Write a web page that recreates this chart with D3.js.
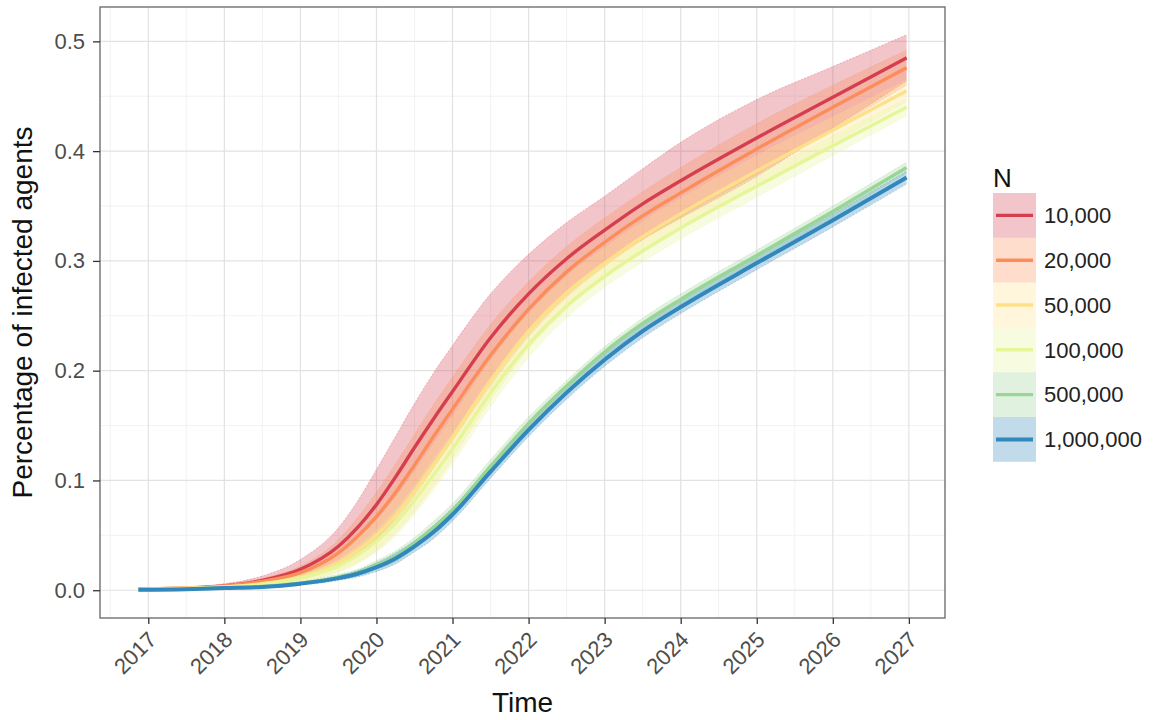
<!DOCTYPE html>
<html>
<head>
<meta charset="utf-8">
<script src="https://cdn.jsdelivr.net/npm/d3@7"></script>
<style>
  html, body { margin: 0; padding: 0; background: #fff; }
  svg { display: block; font-family: "Liberation Sans", Arial, sans-serif; }
</style>
</head>
<body>
<svg id="chart" width="1161" height="720"></svg>
<script>
// ---------- data ----------
const times = [2016.87, 2017.5, 2018, 2018.5, 2019, 2019.5, 2019.75, 2020, 2020.25, 2020.5, 2020.75,
               2021, 2021.5, 2022, 2022.5, 2023, 2023.5, 2024, 2025, 2026, 2026.97];

const seriesNames = ["10,000", "20,000", "50,000", "100,000", "500,000", "1,000,000"];
const seriesColors = ["#D53E4F", "#FC8D59", "#FEE08B", "#E6F598", "#99D594", "#3288BD"];

const mean10k  = [0.001, 0.002, 0.004, 0.009, 0.019, 0.040, 0.057, 0.078, 0.103, 0.130, 0.156, 0.181, 0.230, 0.270, 0.302, 0.328, 0.352, 0.373, 0.412, 0.449, 0.485];
const hi10k    = [0.0015, 0.003, 0.006, 0.013, 0.028, 0.057, 0.081, 0.110, 0.140, 0.170, 0.198, 0.223, 0.270, 0.306, 0.335, 0.359, 0.384, 0.408, 0.447, 0.477, 0.506];
const lo10k    = [0.0005, 0.001, 0.002, 0.005, 0.010, 0.023, 0.033, 0.046, 0.066, 0.090, 0.114, 0.139, 0.190, 0.234, 0.269, 0.297, 0.320, 0.339, 0.377, 0.421, 0.464];

const mean20k  = [0.001, 0.002, 0.004, 0.008, 0.016, 0.034, 0.049, 0.067, 0.089, 0.114, 0.140, 0.165, 0.214, 0.256, 0.290, 0.317, 0.341, 0.362, 0.402, 0.440, 0.476];
const hi20k    = [0.0014, 0.0027, 0.0055, 0.011, 0.022, 0.046, 0.066, 0.089, 0.115, 0.142, 0.169, 0.194, 0.242, 0.281, 0.313, 0.339, 0.363, 0.385, 0.425, 0.460, 0.492];
const lo20k    = [0.0006, 0.0013, 0.0025, 0.005, 0.010, 0.022, 0.032, 0.045, 0.063, 0.086, 0.111, 0.136, 0.186, 0.231, 0.267, 0.295, 0.319, 0.339, 0.379, 0.420, 0.460];

const mean50k  = [0.001, 0.002, 0.003, 0.006, 0.012, 0.025, 0.036, 0.050, 0.068, 0.090, 0.114, 0.139, 0.191, 0.236, 0.271, 0.298, 0.322, 0.343, 0.382, 0.419, 0.455];
const hi50k    = [0.0013, 0.0025, 0.004, 0.008, 0.016, 0.033, 0.047, 0.064, 0.084, 0.108, 0.133, 0.158, 0.209, 0.252, 0.286, 0.312, 0.336, 0.357, 0.396, 0.431, 0.465];
const lo50k    = [0.0007, 0.0015, 0.002, 0.004, 0.008, 0.017, 0.025, 0.036, 0.052, 0.072, 0.095, 0.120, 0.173, 0.220, 0.256, 0.284, 0.308, 0.329, 0.368, 0.407, 0.445];

const mean100k = [0.0008, 0.0015, 0.003, 0.0055, 0.011, 0.022, 0.032, 0.045, 0.061, 0.082, 0.105, 0.129, 0.180, 0.224, 0.259, 0.286, 0.309, 0.330, 0.368, 0.405, 0.440];
const hi100k   = [0.001, 0.0019, 0.0038, 0.007, 0.014, 0.028, 0.040, 0.055, 0.073, 0.095, 0.119, 0.143, 0.193, 0.236, 0.270, 0.296, 0.319, 0.340, 0.378, 0.414, 0.448];
const lo100k   = [0.0006, 0.0011, 0.0022, 0.004, 0.008, 0.016, 0.024, 0.035, 0.049, 0.069, 0.091, 0.115, 0.167, 0.212, 0.248, 0.276, 0.299, 0.320, 0.358, 0.396, 0.432];

const mean500k = [0.0005, 0.001, 0.002, 0.0035, 0.0065, 0.012, 0.016, 0.023, 0.031, 0.043, 0.057, 0.073, 0.113, 0.152, 0.186, 0.217, 0.243, 0.265, 0.305, 0.345, 0.385];
const hi500k   = [0.0007, 0.0013, 0.0025, 0.0045, 0.008, 0.0145, 0.019, 0.027, 0.036, 0.048, 0.063, 0.079, 0.119, 0.158, 0.191, 0.222, 0.248, 0.270, 0.310, 0.350, 0.390];
const lo500k   = [0.0003, 0.0007, 0.0015, 0.0025, 0.005, 0.0095, 0.013, 0.019, 0.026, 0.038, 0.051, 0.067, 0.107, 0.146, 0.181, 0.212, 0.238, 0.260, 0.300, 0.340, 0.380];

const mean1m   = [0.0005, 0.001, 0.002, 0.003, 0.006, 0.011, 0.015, 0.021, 0.029, 0.040, 0.053, 0.069, 0.108, 0.146, 0.180, 0.210, 0.236, 0.258, 0.298, 0.337, 0.376];
const hi1m     = [0.0007, 0.0013, 0.0025, 0.004, 0.0075, 0.013, 0.018, 0.025, 0.034, 0.045, 0.059, 0.075, 0.114, 0.152, 0.186, 0.216, 0.242, 0.264, 0.304, 0.343, 0.382];
const lo1m     = [0.0003, 0.0007, 0.0015, 0.002, 0.0045, 0.009, 0.012, 0.017, 0.024, 0.035, 0.047, 0.063, 0.102, 0.140, 0.174, 0.204, 0.230, 0.252, 0.292, 0.331, 0.370];

const yearTicks = [2017, 2018, 2019, 2020, 2021, 2022, 2023, 2024, 2025, 2026, 2027];
const yTicks = [0.0, 0.1, 0.2, 0.3, 0.4, 0.5];

const means = [mean10k, mean20k, mean50k, mean100k, mean500k, mean1m];
const his = [hi10k, hi20k, hi50k, hi100k, hi500k, hi1m];
const los = [lo10k, lo20k, lo50k, lo100k, lo500k, lo1m];

const series = seriesNames.map((name, i) => ({
  name, color: seriesColors[i],
  pts: times.map((t, j) => ({ t, m: means[i][j], hi: his[i][j], lo: los[i][j] }))
}));

// ---------- layout ----------
const svg = d3.select("#chart");
const P = { left: 100, right: 945, top: 7, bottom: 618 };

const tExt = d3.extent(times);
const tPad = (tExt[1] - tExt[0]) * 0.05;
const yMax = d3.max(his.flat()), yMin = 0;
const yPad = (yMax - yMin) * 0.05;

const x = d3.scaleLinear().domain([tExt[0] - tPad, tExt[1] + tPad]).range([P.left, P.right]);
const y = d3.scaleLinear().domain([yMin - yPad, yMax + yPad]).range([P.bottom, P.top]);

// grid
const g = svg.append("g");
const minorX = d3.range(2016.5, 2028, 1).filter(v => x(v) > P.left && x(v) < P.right);
const minorY = d3.range(-0.05, 0.6, 0.1).filter(v => y(v) > P.top && y(v) < P.bottom);
g.selectAll(".mx").data(minorX).join("line")
  .attr("x1", d => x(d)).attr("x2", d => x(d)).attr("y1", P.top).attr("y2", P.bottom)
  .attr("stroke", "#ededed").attr("stroke-width", 0.7);
g.selectAll(".my").data(minorY).join("line")
  .attr("y1", d => y(d)).attr("y2", d => y(d)).attr("x1", P.left).attr("x2", P.right)
  .attr("stroke", "#ededed").attr("stroke-width", 0.7);
g.selectAll(".gx").data(yearTicks).join("line")
  .attr("x1", d => x(d)).attr("x2", d => x(d)).attr("y1", P.top).attr("y2", P.bottom)
  .attr("stroke", "#e2e2e2").attr("stroke-width", 1.2);
g.selectAll(".gy").data(yTicks).join("line")
  .attr("y1", d => y(d)).attr("y2", d => y(d)).attr("x1", P.left).attr("x2", P.right)
  .attr("stroke", "#e2e2e2").attr("stroke-width", 1.2);

// ribbons
const area = d3.area().x(d => x(d.t)).y0(d => y(d.lo)).y1(d => y(d.hi)).curve(d3.curveMonotoneX);
const line = d3.line().x(d => x(d.t)).y(d => y(d.m)).curve(d3.curveMonotoneX);
const edgeHi = d3.line().x(d => x(d.t)).y(d => y(d.hi)).curve(d3.curveMonotoneX);
const edgeLo = d3.line().x(d => x(d.t)).y(d => y(d.lo)).curve(d3.curveMonotoneX);

const plot = svg.append("g");
series.forEach(s => {
  plot.append("path").attr("d", area(s.pts)).attr("fill", s.color).attr("fill-opacity", 0.3);
  [edgeHi, edgeLo].forEach(e => plot.append("path").attr("d", e(s.pts))
    .attr("fill", "none").attr("stroke", s.color).attr("stroke-opacity", 0.45)
    .attr("stroke-width", 0.7).attr("stroke-dasharray", "2,1.5"));
});
series.forEach((s, i) => {
  plot.append("path").attr("d", line(s.pts)).attr("fill", "none")
    .attr("stroke", s.color).attr("stroke-width", i === 5 ? 4 : 3.4)
    .attr("stroke-linejoin", "round");
});

// panel border
svg.append("rect").attr("x", P.left).attr("y", P.top)
  .attr("width", P.right - P.left).attr("height", P.bottom - P.top)
  .attr("fill", "none").attr("stroke", "#666").attr("stroke-width", 1.3);

// axes
const xAxis = svg.append("g").attr("transform", `translate(0,${P.bottom})`)
  .call(d3.axisBottom(x).tickValues(yearTicks).tickFormat(d3.format("d")).tickSize(6).tickPadding(3));
xAxis.select(".domain").remove();
xAxis.selectAll(".tick line").attr("stroke", "#333").attr("stroke-width", 1.3);
xAxis.selectAll(".tick text")
  .attr("font-size", 22).attr("fill", "#4d4d4d")
  .attr("text-anchor", "end").attr("dy", null).attr("y", 0)
  .attr("transform", "translate(9,23) rotate(-45)");

const yAxis = svg.append("g").attr("transform", `translate(${P.left},0)`)
  .call(d3.axisLeft(y).tickValues(yTicks).tickFormat(d3.format(".1f")).tickSize(7).tickPadding(8));
yAxis.select(".domain").remove();
yAxis.selectAll(".tick line").attr("stroke", "#333").attr("stroke-width", 1.3);
yAxis.selectAll(".tick text").attr("font-size", 22).attr("fill", "#4d4d4d");

// axis titles
svg.append("text").attr("x", (P.left + P.right) / 2).attr("y", 712)
  .attr("text-anchor", "middle").attr("font-size", 28).attr("fill", "#111").text("Time");
svg.append("text").attr("transform", `translate(32,${(P.top + P.bottom) / 2}) rotate(-90)`)
  .attr("text-anchor", "middle").attr("font-size", 28).attr("fill", "#111")
  .text("Percentage of infected agents");

// legend
const L = { x: 993, y: 193, w: 43, h: 44.8 };
const leg = svg.append("g");
leg.append("text").attr("x", L.x).attr("y", L.y - 6).attr("font-size", 26).attr("fill", "#111").text("N");
series.forEach((s, i) => {
  const yy = L.y + i * L.h;
  leg.append("rect").attr("x", L.x).attr("y", yy).attr("width", L.w).attr("height", L.h)
    .attr("fill", s.color).attr("fill-opacity", 0.3);
  leg.append("line").attr("x1", L.x + 3).attr("x2", L.x + L.w - 3)
    .attr("y1", yy + L.h / 2).attr("y2", yy + L.h / 2)
    .attr("stroke", s.color).attr("stroke-width", i === 5 ? 4 : 3.4);
  leg.append("text").attr("x", L.x + L.w + 8).attr("y", yy + L.h / 2)
    .attr("dy", "0.35em").attr("font-size", 22).attr("fill", "#222").text(s.name);
});
</script>
</body>
</html>
